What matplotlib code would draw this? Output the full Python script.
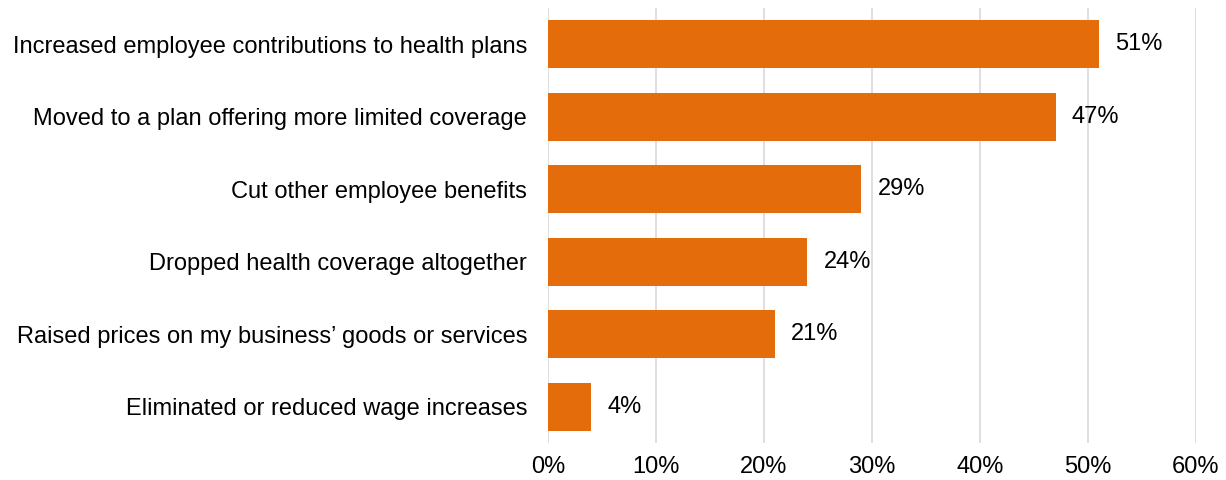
import matplotlib
matplotlib.use('Agg')

import matplotlib.pyplot as plt
import numpy as np

# data, top to bottom
categories = ['Increased employee contributions to health plans',
              'Moved to a plan offering more limited coverage',
              'Cut other employee benefits',
              'Dropped health coverage altogether',
              'Raised prices on my business\u2019 goods or services',
              'Eliminated or reduced wage increases']
values = [51, 47, 29, 24, 21, 4]
x_ticks = [0, 10, 20, 30, 40, 50, 60]

plt.rcParams['font.family'] = ['Liberation Sans', 'DejaVu Sans']

fig = plt.figure(figsize=(12.26, 4.8), dpi=100)
ax = fig.add_axes([0.447, 0.077, 0.5285, 0.906])

y = np.arange(len(categories))
ax.barh(y, values, height=0.66, color='#E46C0A', zorder=3)

for yi, v in zip(y, values):
    ax.text(v + 1.5, yi, '{0}%'.format(v), va='center', ha='left', fontsize=17, color='black')

ax.set_xlim(0, 60)
ax.set_ylim(len(categories) - 0.5, -0.5)
ax.set_xticks(x_ticks)
ax.set_xticklabels(['{0}%'.format(t) for t in x_ticks], fontsize=17, color='black')
ax.set_yticks(y)
ax.set_yticklabels(categories, fontsize=17, color='black')
ax.tick_params(axis='both', length=0)
ax.tick_params(axis='y', pad=15)
ax.tick_params(axis='x', pad=9)

ax.grid(axis='x', color='#d9d9d9', linewidth=1.2, zorder=0)
for s in ax.spines.values():
    s.set_visible(False)

plt.savefig('out.png', dpi=100)
